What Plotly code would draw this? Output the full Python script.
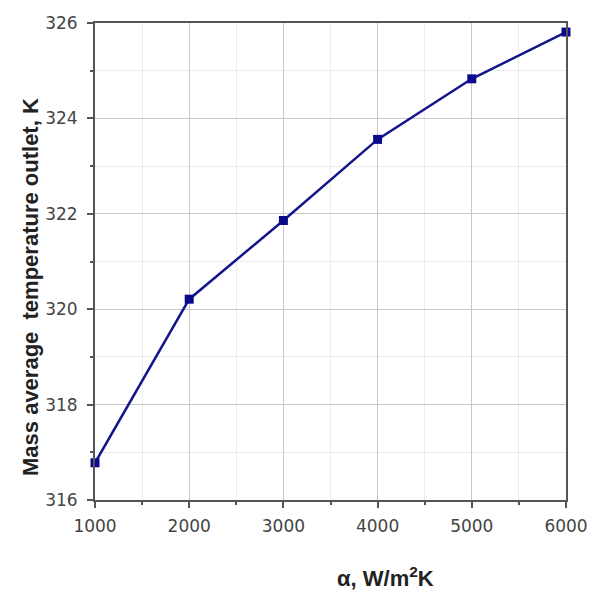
import plotly.graph_objects as go

alpha = [1000, 2000, 3000, 4000, 5000, 6000]
temp_outlet = [316.78, 320.21, 321.86, 323.56, 324.83, 325.81]
x_ticks = [1000, 2000, 3000, 4000, 5000, 6000]
y_ticks = [316, 318, 320, 322, 324, 326]

W, H = 589, 597
L, R, T, B = 95, 23, 23, 97

fig = go.Figure()
fig.add_trace(go.Scatter(
    x=alpha, y=temp_outlet, mode="lines+markers",
    line=dict(color="#14148c", width=2.5),
    marker=dict(symbol="square", size=9, color="#0a0a8a"),
    showlegend=False, cliponaxis=False,
))

axis_common = dict(
    showline=True, linecolor="#555555", linewidth=2, mirror=True,
    ticks="outside", ticklen=6, tickwidth=1.5, tickcolor="#555555",
    showgrid=True, gridcolor="#c8c8c8", gridwidth=1,
    zeroline=False, automargin=False,
    tickfont=dict(family="DejaVu Sans, Liberation Sans, Arial", size=17, color="#444444"),
)

fig.update_xaxes(
    range=[1000, 6000], tickvals=x_ticks, ticktext=[str(v) for v in x_ticks],
    ticklabelstandoff=4,
    minor=dict(dtick=500, tick0=1000, ticks="outside", ticklen=3, tickcolor="#555555",
               showgrid=True, gridcolor="#ebebeb"),
    **axis_common,
)
fig.update_yaxes(
    range=[316, 326], tickvals=y_ticks, ticktext=[str(v) for v in y_ticks],
    ticklabelstandoff=6,
    minor=dict(dtick=1, tick0=316, ticks="outside", ticklen=3, tickcolor="#555555",
               showgrid=True, gridcolor="#ebebeb"),
    **axis_common,
)

pw = W - L - R
ph = H - T - B
fig.add_annotation(
    text="α, W/m<sup>2</sup>K", xref="paper", yref="paper",
    x=(385 - L) / pw, y=-(577 - (T + ph)) / ph, xanchor="center", yanchor="middle",
    showarrow=False,
    font=dict(family="Liberation Sans, Arial", size=22, color="#222222", weight="bold"),
)
fig.add_annotation(
    text="Mass average  temperature outlet, K", xref="paper", yref="paper",
    x=-(L - 30) / pw, y=1 - (287 - T) / ph, xanchor="center", yanchor="middle",
    textangle=-90, showarrow=False,
    font=dict(family="Liberation Sans, Arial", size=22, color="#222222", weight="bold"),
)

fig.update_layout(
    width=W, height=H, autosize=False,
    margin=dict(l=L, r=R, t=T, b=B, autoexpand=False),
    paper_bgcolor="white", plot_bgcolor="white",
)

fig.write_html("out.html", config={"displayModeBar": False},
               post_script="document.body.style.margin='0px';")
